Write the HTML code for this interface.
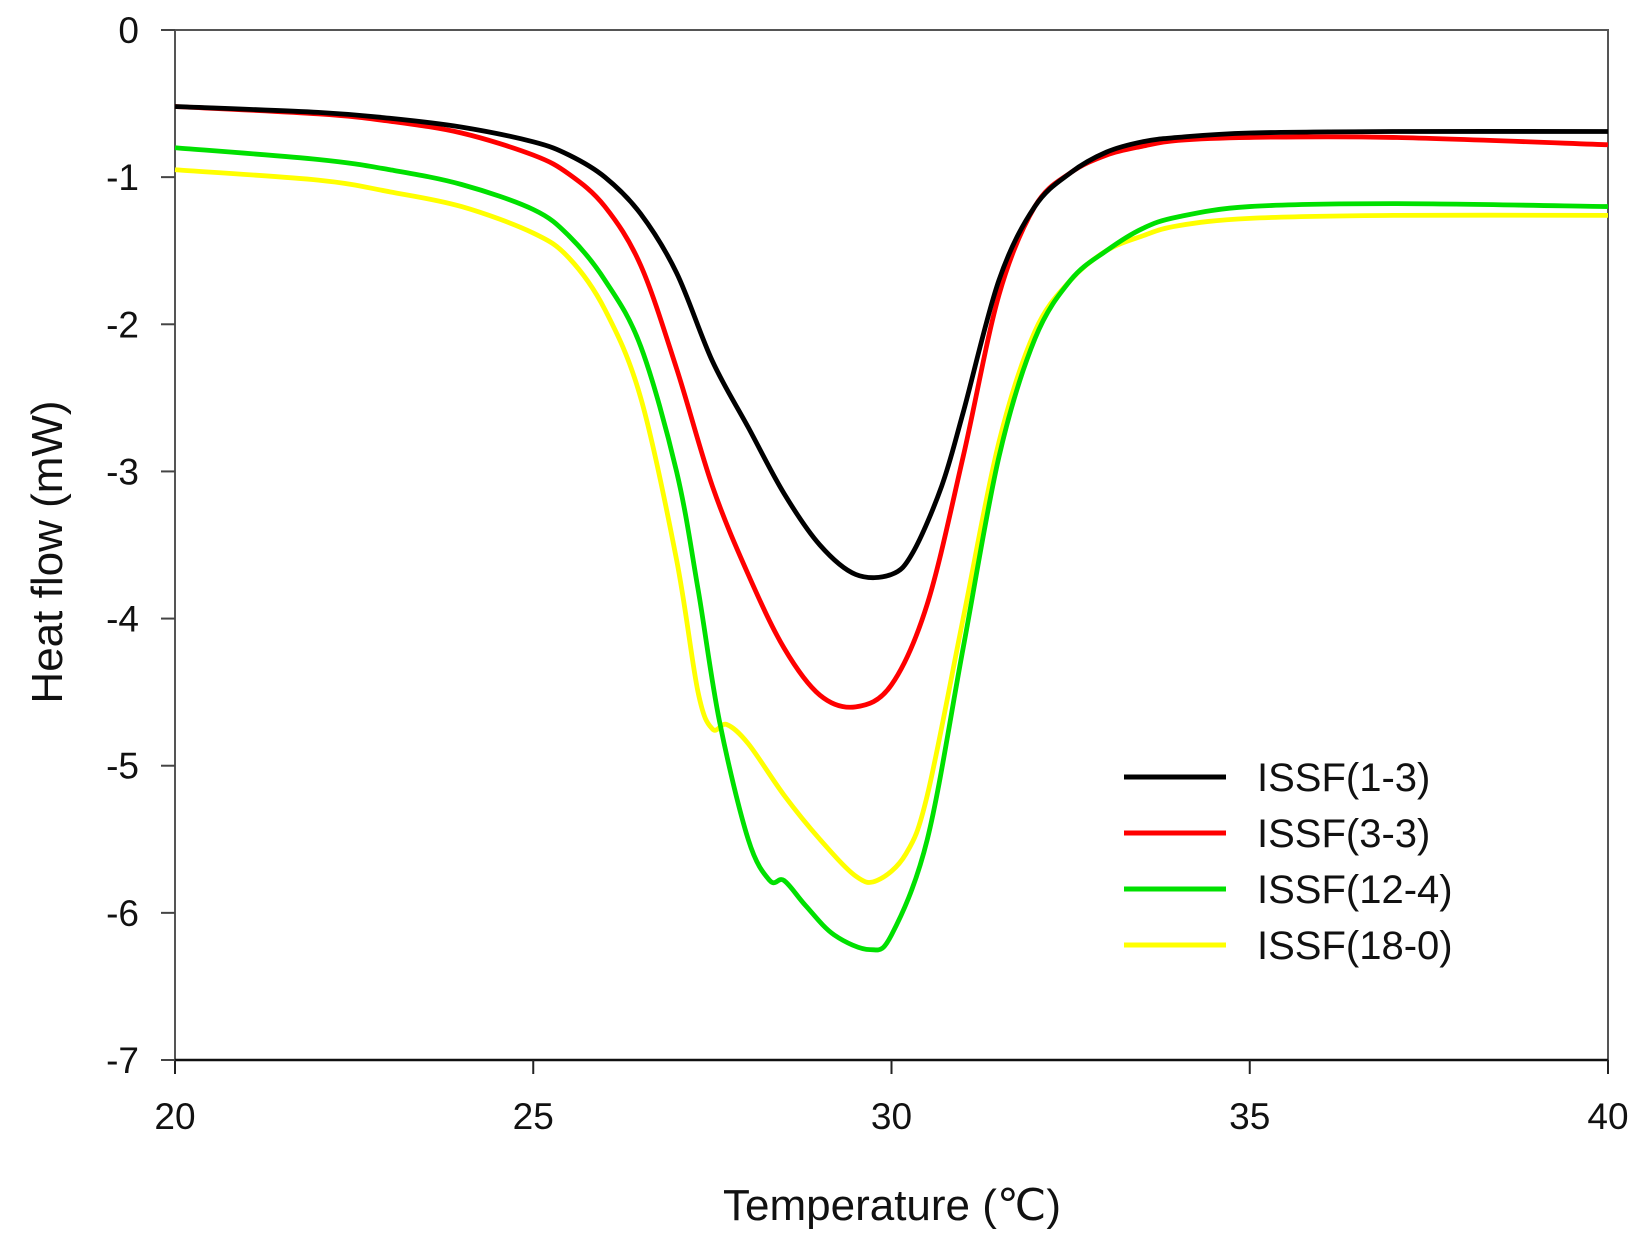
<!DOCTYPE html>
<html><head><meta charset="utf-8"><style>
html,body{margin:0;padding:0;background:#fff}
svg{display:block;font-family:"Liberation Sans",Arial,sans-serif}
</style></head><body>
<svg id="chart" width="1636" height="1238" viewBox="0 0 1636 1238"></svg>
<script>
const xTicks=[20,25,30,35,40];
const yTicks=[0,-1,-2,-3,-4,-5,-6,-7];
const seriesNames=["ISSF(1-3)","ISSF(3-3)","ISSF(12-4)","ISSF(18-0)"];
const seriesColors=["#000000","#ff0000","#00e000","#ffff00"];
const blackX=[20,22,23,24,25,25.5,26,26.5,27,27.5,28,28.5,29,29.5,30,30.3,30.7,31,31.5,32,32.5,33,33.5,34,35,37,40];
const blackY=[-0.52,-0.56,-0.6,-0.66,-0.76,-0.85,-1.0,-1.25,-1.65,-2.25,-2.7,-3.15,-3.5,-3.7,-3.7,-3.55,-3.1,-2.6,-1.7,-1.2,-0.97,-0.83,-0.76,-0.73,-0.7,-0.69,-0.69];
const redX=[20,22,23,24,25,25.5,26,26.5,27,27.5,28,28.5,29,29.5,30,30.5,31,31.5,32,32.5,33,33.5,34,35,37,40];
const redY=[-0.52,-0.57,-0.62,-0.7,-0.85,-0.98,-1.2,-1.6,-2.3,-3.1,-3.7,-4.2,-4.52,-4.6,-4.45,-3.9,-2.9,-1.8,-1.2,-0.97,-0.85,-0.79,-0.75,-0.73,-0.73,-0.78];
const greenX=[20,22,23,24,25,25.5,26,26.5,27,27.3,27.6,28,28.3,28.5,28.8,29.2,29.7,30,30.5,31,31.5,32,32.5,33,33.5,34,35,37,40];
const greenY=[-0.8,-0.88,-0.95,-1.05,-1.22,-1.4,-1.7,-2.15,-3.0,-3.8,-4.7,-5.5,-5.78,-5.78,-5.95,-6.15,-6.25,-6.15,-5.5,-4.2,-2.9,-2.1,-1.7,-1.5,-1.35,-1.27,-1.2,-1.18,-1.2];
const yellowX=[20,22,23,24,25,25.5,26,26.5,27,27.3,27.5,27.7,28,28.5,29,29.5,29.8,30.2,30.5,31,31.5,32,32.5,33,33.5,34,35,37,40];
const yellowY=[-0.95,-1.02,-1.1,-1.2,-1.38,-1.55,-1.9,-2.5,-3.6,-4.5,-4.75,-4.72,-4.85,-5.2,-5.5,-5.75,-5.78,-5.6,-5.2,-4.0,-2.8,-2.05,-1.7,-1.5,-1.4,-1.33,-1.28,-1.26,-1.26];

const L=175,R=1608,T=30,B=1060;
const sx=v=>L+(v-20)/20*(R-L);
const sy=v=>T+(0-v)/7*(B-T);
const svg=document.getElementById('chart');
const NS='http://www.w3.org/2000/svg';
function mk(tag,attrs,parent){const e=document.createElementNS(NS,tag);for(const k in attrs)e.setAttribute(k,attrs[k]);(parent||svg).appendChild(e);return e;}

let e=mk('rect',{x:L,y:T,width:R-L,height:B-T,fill:'none',stroke:'#555','stroke-width':2});


e=mk('line',{x1:L,y1:B,x2:R,y2:B,stroke:'#111','stroke-width':2.5});



xTicks.forEach(v=>{
  const t=mk('line',{x1:sx(v),y1:B,x2:sx(v),y2:B+14,stroke:'#222','stroke-width':2});
  
  
  const l=mk('text',{x:sx(v),y:B+69,'font-size':37,'text-anchor':'middle',fill:'#111'});
  l.textContent=v;
  
  
});
yTicks.forEach(v=>{
  const t=mk('line',{x1:L-14,y1:sy(v),x2:L,y2:sy(v),stroke:'#444','stroke-width':2});
  
  
  const l=mk('text',{x:139,y:sy(v)+13,'font-size':37,'text-anchor':'end',fill:'#111'});
  l.textContent=v;
  
  
});

function pathFor(xs,ys){
  const p=xs.map((x,i)=>[sx(x),sy(ys[i])]);
  let d='M'+p[0][0]+','+p[0][1];
  for(let i=0;i<p.length-1;i++){
    const p0=p[i-1]||p[i],p1=p[i],p2=p[i+1],p3=p[i+2]||p2;
    const c1=[p1[0]+(p2[0]-p0[0])/6,p1[1]+(p2[1]-p0[1])/6];
    const c2=[p2[0]-(p3[0]-p1[0])/6,p2[1]-(p3[1]-p1[1])/6];
    d+=' C'+c1+' '+c2+' '+p2;
  }
  return d;
}
const allX=[blackX,redX,greenX,yellowX],allY=[blackY,redY,greenY,yellowY];
const order=[3,2,1,0];
order.forEach(i=>{
  const p=mk('path',{d:pathFor(allX[i],allY[i]),fill:'none',stroke:seriesColors[i],'stroke-width':4.8,'stroke-linejoin':'round'});
  
  
});

seriesNames.forEach((n,i)=>{
  const y=777+i*56;
  const g=mk('g',{});
  
  
  mk('line',{x1:1124,y1:y,x2:1226,y2:y,stroke:seriesColors[i],'stroke-width':5},g);
  const t=mk('text',{x:1257,y:y+14,'font-size':40,fill:'#111'},g);
  t.textContent=n;
});

e=mk('text',{x:892,y:1220,'font-size':44,'text-anchor':'middle',fill:'#111'});
e.textContent='Temperature (\u2103)';


e=mk('text',{x:0,y:0,'font-size':44,'text-anchor':'middle',fill:'#111',transform:'translate(62,552) rotate(-90)'});
e.textContent='Heat flow (mW)';


</script>
</body></html>
